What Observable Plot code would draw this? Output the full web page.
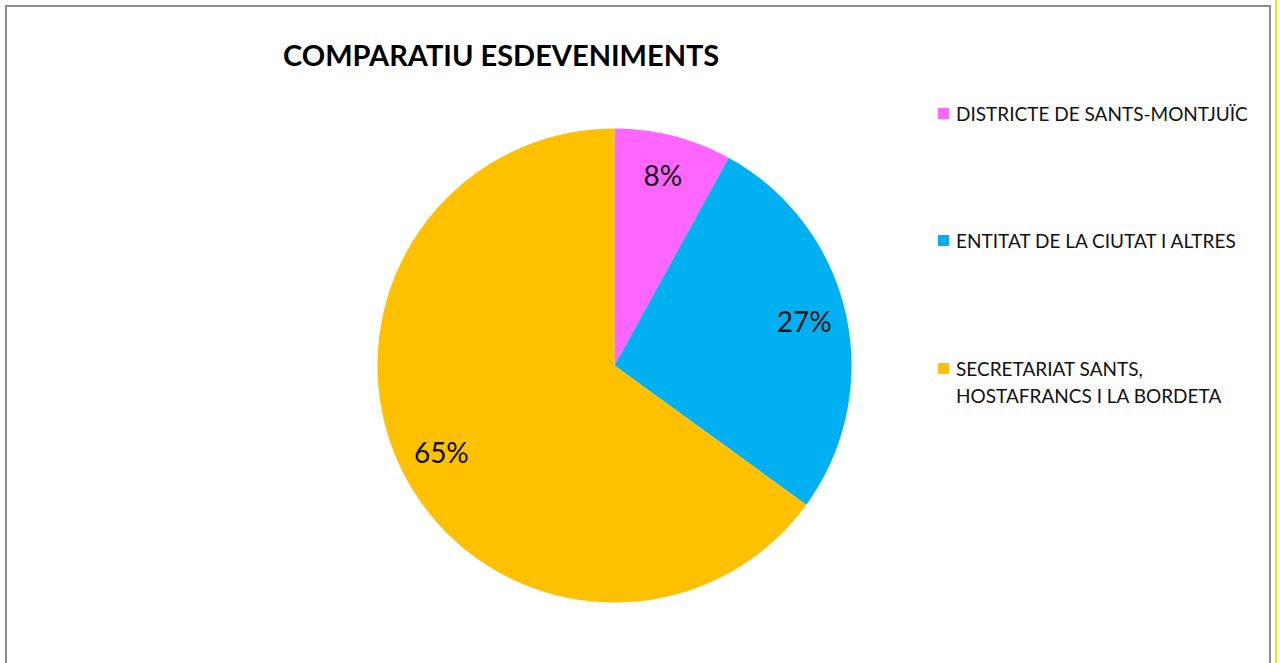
<!DOCTYPE html>
<html>
<head>
<meta charset="utf-8">
<script src="https://cdn.jsdelivr.net/npm/d3@7"></script>
<script src="https://cdn.jsdelivr.net/npm/@observablehq/plot@0.6"></script>
<style>
  html, body { margin: 0; padding: 0; background: #fff; }
  body { width: 1280px; height: 663px; position: relative; overflow: hidden; font-family: Lato, "Open Sans", sans-serif; }
  #frame { position: absolute; left: 5px; top: 5px; width: 1266px; height: 700px; border: 2px solid #8c8c8c; box-sizing: border-box; }
  #yellow { position: absolute; left: 1275px; top: 0; width: 2px; height: 663px; background: #e8e800; }
  #title { position: absolute; left: 283px; top: 37px; font-weight: bold; font-size: 29px; color: #000; white-space: nowrap; }
  #chart { position: absolute; left: 0; top: 0; }
  .leg { position: absolute; left: 938px; font-size: 19px; color: #111; line-height: 27px; white-space: nowrap; }
  .sw { position: absolute; left: 0; top: 8px; width: 11px; height: 11px; }
  .lt { position: absolute; left: 18px; top: 0; }
</style>
</head>
<body>
<div id="frame"></div>
<div id="yellow"></div>
<div id="chart"></div>
<div id="title">COMPARATIU ESDEVENIMENTS</div>
<div id="legend"></div>
<script>
const categories = ["DISTRICTE DE SANTS-MONTJUÏC", "ENTITAT DE LA CIUTAT I ALTRES", "SECRETARIAT SANTS, HOSTAFRANCS I LA BORDETA"];
const legendLines = [["DISTRICTE DE SANTS-MONTJUÏC"], ["ENTITAT DE LA CIUTAT I ALTRES"], ["SECRETARIAT SANTS,", "HOSTAFRANCS I LA BORDETA"]];
const values = [8, 27, 65];
const colors = ["#FF66FF", "#00B0F0", "#FFC000"];
const pctLabels = ["8%", "27%", "65%"];

const pie = d3.pie().sort(null).value(d => d.value)(categories.map((c, i) => ({category: c, value: values[i], color: colors[i], label: pctLabels[i]})));

// polygon points for each slice (unit circle, angle 0 at top, clockwise)
const polys = [];
pie.forEach((s, k) => {
  const n = Math.max(2, Math.ceil((s.endAngle - s.startAngle) / 0.01));
  polys.push({k, x: 0, y: 0, color: s.data.color});
  for (let j = 0; j <= n; j++) {
    const a = s.startAngle + (s.endAngle - s.startAngle) * j / n;
    polys.push({k, x: Math.sin(a), y: Math.cos(a), color: s.data.color});
  }
  polys.push({k, x: 0, y: 0, color: s.data.color});
});

const labelR = 0.82;
const labels = pie.map(s => {
  const a = (s.startAngle + s.endAngle) / 2;
  return {x: labelR * Math.sin(a), y: labelR * Math.cos(a), label: s.data.label};
});

const cx = 614, cy = 365, r = 237;
const chart = Plot.plot({
  width: 1280,
  height: 663,
  margin: 0,
  x: {domain: [-1, 1], range: [cx - r, cx + r], axis: null},
  y: {domain: [-1, 1], range: [cy + r, cy - r], axis: null},
  marks: [
    Plot.line(polys, {x: "x", y: "y", z: "k", fill: "color", stroke: "none", curve: "linear"}),
    Plot.text(labels, {x: "x", y: "y", text: "label", fontSize: 28, fill: "#111", fontFamily: "Lato, 'Open Sans', sans-serif"})
  ],
  style: {background: "transparent", overflow: "visible"}
});
document.getElementById("chart").appendChild(chart);

const legendTops = [100, 227, 355];
const legend = document.getElementById("legend");
legendLines.forEach((lines, i) => {
  const d = document.createElement("div");
  d.className = "leg";
  d.style.top = legendTops[i] + "px";
  const sw = document.createElement("div");
  sw.className = "sw";
  sw.style.background = colors[i];
  d.appendChild(sw);
  const t = document.createElement("div");
  t.className = "lt";
  t.innerHTML = lines.join("<br>");
  d.appendChild(t);
  legend.appendChild(d);
});
</script>
</body>
</html>
